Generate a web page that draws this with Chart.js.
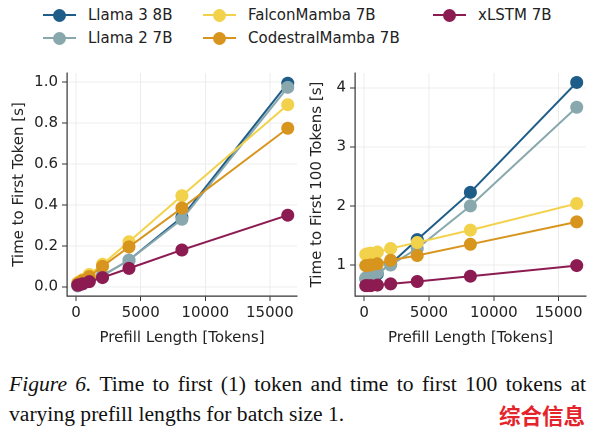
<!DOCTYPE html>
<html>
<head>
<meta charset="utf-8">
<script src="https://cdn.jsdelivr.net/npm/chart.js@4.4.1/dist/chart.umd.min.js"></script>
<style>
  html, body { margin: 0; padding: 0; background: #fff; }
  body { width: 594px; height: 445px; position: relative; overflow: hidden; font-family: "DejaVu Sans", sans-serif; }
  .panel { position: absolute; }
  #legend { position: absolute; left: 0; top: 0; width: 594px; height: 52px; }
  .item { position: absolute; font-size: 15px; color: #222; line-height: 18px; white-space: nowrap; }
  .item .ln { position: absolute; height: 2px; width: 33px; top: 8px; }
  .item .dot { position: absolute; width: 13px; height: 13px; border-radius: 50%; top: 2.5px; }
  #caption { position: absolute; left: 9px; top: 369px; width: 577px; font-family: "Liberation Serif", serif; font-size: 21.6px; line-height: 30px; color: #111; text-align: justify; }
  #mark { position: absolute; left: 499px; top: 399px; font-family: "Noto Sans CJK SC", sans-serif; font-weight: 700; font-size: 21.5px; color: #e5232b; }
</style>
</head>
<body>
<div id="legend"></div>
<canvas id="ttftChart" class="panel" style="left:0px;top:60px;width:305px;height:290px"></canvas>
<canvas id="tt100Chart" class="panel" style="left:300px;top:60px;width:294px;height:290px"></canvas>
<div id="caption"><i>Figure 6.</i> Time to first (1) token and time to first 100 tokens at varying prefill lengths for batch size 1.</div>
<div id="mark">综合信息</div>
<script>
// Prefill lengths shared by both panels
const prefillLengths = [128, 256, 512, 1024, 2048, 4096, 8192, 16384];

const modelNames = ['Llama 3 8B', 'Llama 2 7B', 'FalconMamba 7B', 'CodestralMamba 7B', 'xLSTM 7B'];
const modelColors = ['#1e5d88', '#88a8ad', '#f3d24b', '#d8951e', '#8c1b51'];

// Time to first token [s]
const ttftLlama3 = [0.005, 0.01, 0.015, 0.03, 0.055, 0.13, 0.34, 0.995];
const ttftLlama2 = [0.005, 0.01, 0.015, 0.028, 0.055, 0.13, 0.33, 0.975];
const ttftFalcon = [0.02, 0.025, 0.035, 0.06, 0.11, 0.22, 0.445, 0.89];
const ttftCodestral = [0.015, 0.02, 0.03, 0.05, 0.1, 0.195, 0.385, 0.775];
const ttftXlstm = [0.008, 0.01, 0.015, 0.025, 0.045, 0.09, 0.18, 0.35];

// Time to first 100 tokens [s]
const tt100Llama3 = [0.77, 0.78, 0.8, 0.85, 1.02, 1.43, 2.23, 4.09];
const tt100Llama2 = [0.78, 0.8, 0.82, 0.87, 1.0, 1.28, 2.0, 3.67];
const tt100Falcon = [1.18, 1.19, 1.2, 1.22, 1.28, 1.38, 1.59, 2.04];
const tt100Codestral = [0.99, 0.99, 1.0, 1.02, 1.08, 1.16, 1.35, 1.73];
const tt100Xlstm = [0.65, 0.65, 0.65, 0.66, 0.68, 0.72, 0.81, 0.99];

const xTicks = [0, 5000, 10000, 15000];
const ttftTicks = [0.0, 0.2, 0.4, 0.6, 0.8, 1.0];
const tt100Ticks = [1, 2, 3, 4];

const ttftSeries = [ttftLlama3, ttftLlama2, ttftFalcon, ttftCodestral, ttftXlstm];
const tt100Series = [tt100Llama3, tt100Llama2, tt100Falcon, tt100Codestral, tt100Xlstm];

// legend (html, three columns like the figure)
const legendSpots = [
    { left: 43, top: 6 }, { left: 43, top: 29 },
    { left: 203, top: 6 }, { left: 203, top: 29 },
    { left: 433, top: 6 }
];
const legendEl = document.getElementById('legend');
modelNames.forEach((name, i) => {
    const item = document.createElement('div');
    item.className = 'item';
    item.style.left = legendSpots[i].left + 'px';
    item.style.top = legendSpots[i].top + 'px';
    item.innerHTML = `<span class="ln" style="left:0;background:${modelColors[i]}"></span>` +
        `<span class="dot" style="left:10px;background:${modelColors[i]}"></span>` +
        `<span style="position:relative;left:45px">${name}</span>`;
    legendEl.appendChild(item);
});

function buildDatasets(series) {
    return series.map((vals, i) => ({
        label: modelNames[i],
        data: vals.map((v, j) => ({ x: prefillLengths[j], y: v })),
        borderColor: modelColors[i],
        backgroundColor: modelColors[i],
        pointBackgroundColor: modelColors[i],
        pointBorderColor: modelColors[i],
        pointRadius: 6.5,
        pointBorderWidth: 0,
        borderWidth: 2,
        tension: 0,
        order: 5 - i
    }));
}

const tickFont = { family: 'DejaVu Sans', size: 15 };
const titleFont = { family: 'DejaVu Sans', size: 15 };

function makeChart(id, series, yTicks, yMin, yMax, yTitle, yWidth, yTitlePad, yFmt) {
    const ctx = document.getElementById(id).getContext('2d');
    return new Chart(ctx, {
        type: 'line',
        data: { datasets: buildDatasets(series) },
        options: {
            responsive: false,
            animation: false,
            devicePixelRatio: 2,
            layout: { padding: { top: 13, right: 8, left: 0, bottom: 0 } },
            plugins: { legend: { display: false }, tooltip: { enabled: false } },
            scales: {
                x: {
                    type: 'linear',
                    min: -700,
                    max: 17100,
                    afterBuildTicks: (scale) => { scale.ticks = xTicks.map(v => ({ value: v })); },
                    afterFit: (scale) => { scale.height = 54; },
                    ticks: {
                        font: tickFont, color: '#222', padding: 3, maxRotation: 0,
                        callback: (v) => String(v)
                    },
                    grid: { color: '#ececec', lineWidth: 1, tickColor: '#333', tickLength: 5 },
                    border: { color: '#333', width: 1.2 },
                    title: { display: true, text: 'Prefill Length [Tokens]', font: titleFont, color: '#222', padding: { top: 2, bottom: 3 } }
                },
                y: {
                    type: 'linear',
                    min: yMin,
                    max: yMax,
                    afterBuildTicks: (scale) => { scale.ticks = yTicks.map(v => ({ value: v })); },
                    afterFit: (scale) => { scale.width = yWidth; },
                    ticks: { font: tickFont, color: '#222', padding: 4, callback: yFmt },
                    grid: { color: '#ececec', lineWidth: 1, tickColor: '#333', tickLength: 5 },
                    border: { color: '#333', width: 1.2 },
                    title: { display: true, text: yTitle, font: titleFont, color: '#222', padding: { top: yTitlePad, bottom: 0 } }
                }
            }
        }
    });
}

makeChart('ttftChart', ttftSeries, ttftTicks, -0.045, 1.045, 'Time to First Token [s]', 67, 10, (v) => v.toFixed(1));
makeChart('tt100Chart', tt100Series, tt100Ticks, 0.475, 4.25, 'Time to First 100 Tokens [s]', 55, 8, (v) => String(v));
</script>
</body>
</html>
